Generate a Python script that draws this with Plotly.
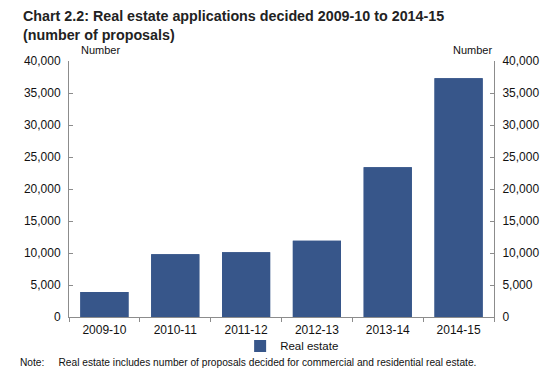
import plotly.graph_objects as go

categories = ["2009-10", "2010-11", "2011-12", "2012-13", "2013-14", "2014-15"]
real_estate = [3900, 9800, 10100, 11900, 23400, 37300]
y_ticks = [0, 5000, 10000, 15000, 20000, 25000, 30000, 35000, 40000]

BAR = "#37568A"
AX = "#8C8C8C"
FONT = "Liberation Sans, Arial, sans-serif"

fig = go.Figure()
fig.add_trace(go.Bar(x=categories, y=real_estate, name="Real estate",
                     marker=dict(color=BAR, line=dict(width=0)), width=0.68))
fig.add_trace(go.Bar(x=categories, y=real_estate, yaxis="y2", showlegend=False,
                     marker=dict(color=BAR, line=dict(width=0)), width=0.68,
                     hoverinfo="skip"))

axis_common = dict(range=[0, 40000], tickvals=y_ticks, tickformat=",", showgrid=False,
                   zeroline=False, showline=True, linecolor=AX, linewidth=1,
                   ticks="inside", ticklen=4, tickcolor=AX, ticklabelstandoff=5,
                   tickfont=dict(family=FONT, size=12, color="#111"))

# page body has an 8px default margin, so the figure is sized to fit the window
fig.update_layout(
    width=548, height=369,
    margin=dict(l=61, r=62, t=53, b=60),
    paper_bgcolor="white", plot_bgcolor="white",
    barmode="overlay",
    showlegend=True,
    legend=dict(orientation="h", x=0.525, xanchor="center", y=-0.113, yanchor="middle",
                font=dict(family=FONT, size=11.5, color="#111"), itemwidth=30,
                bgcolor="rgba(0,0,0,0)"),
    xaxis=dict(type="category", showgrid=False, zeroline=False, showline=True, linecolor=AX,
               linewidth=1, ticks="outside", ticklen=4, tickcolor=AX, tickson="boundaries",
               ticklabelstandoff=2,
               tickfont=dict(family=FONT, size=12, color="#111")),
    yaxis=dict(**axis_common),
    yaxis2=dict(**axis_common, overlaying="y", side="right"),
    annotations=[
        dict(text="<b>Chart 2.2: Real estate applications decided 2009-10 to 2014-15</b><br><b>(number of proposals)</b>",
             xref="paper", yref="paper", x=-0.113, y=1.215, xanchor="left", yanchor="top",
             align="left", showarrow=False,
             font=dict(family=FONT, size=14.3, color="#222")),
        dict(text="Number", xref="paper", yref="paper", x=0.024, y=1.0, xanchor="left",
             yanchor="bottom", yshift=3, showarrow=False,
             font=dict(family=FONT, size=11, color="#111")),
        dict(text="Number", xref="paper", yref="paper", x=1.0, y=1.0, xanchor="right",
             yanchor="bottom", yshift=3, showarrow=False,
             font=dict(family=FONT, size=11, color="#111")),
        dict(text="Note:     Real estate includes number of proposals decided for commercial and residential real estate.",
             xref="paper", yref="paper", x=-0.12, y=-0.15, xanchor="left", yanchor="top",
             showarrow=False, font=dict(family=FONT, size=10.2, color="#111")),
    ],
)

fig.write_html("out.html")
